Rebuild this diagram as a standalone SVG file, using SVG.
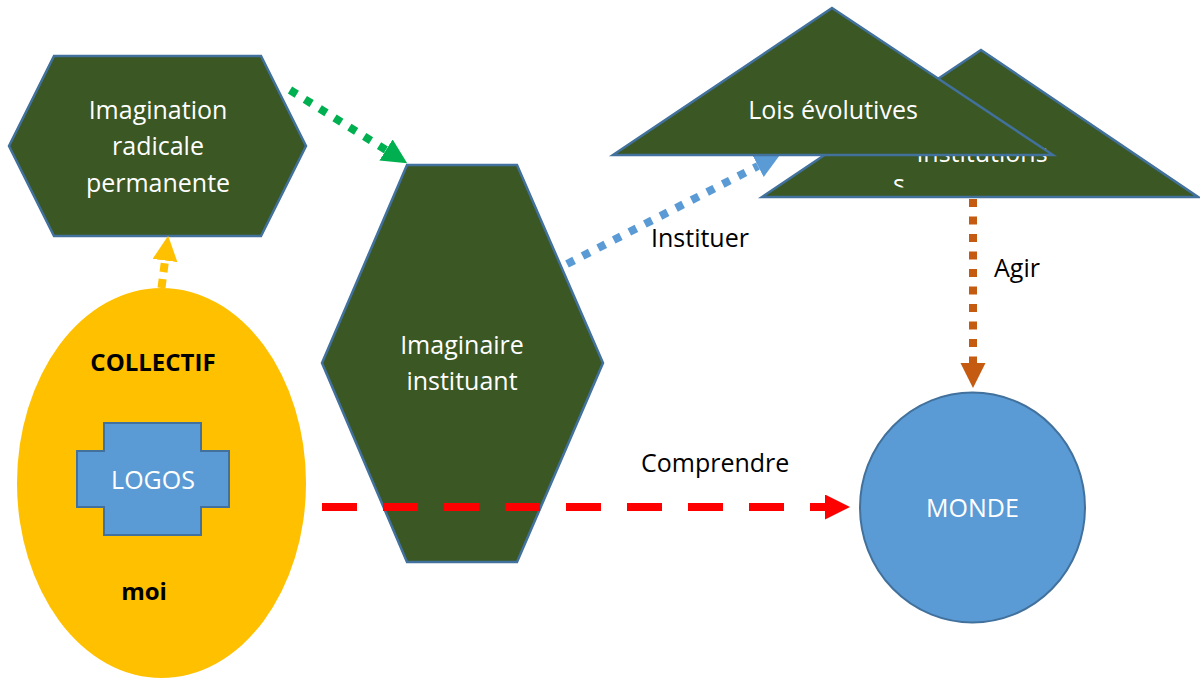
<svg xmlns="http://www.w3.org/2000/svg" width="1200" height="679" viewBox="0 0 1200 679">
<style>
.shape{fill:#3A5724;stroke:#41719C;stroke-width:2.5;stroke-linejoin:miter}
.wt{font-family:"Open Sans","Liberation Sans",sans-serif;font-size:25px;fill:#FFFFFF;text-anchor:middle}
.bt{font-family:"Open Sans","Liberation Sans",sans-serif;font-size:25px;fill:#000000}
.bold{font-family:"Open Sans","Liberation Sans",sans-serif;font-size:24px;font-weight:bold;fill:#000000;text-anchor:middle}
.conn{fill:none}
</style>
<defs>
<marker id="ah-yellow" markerUnits="userSpaceOnUse" markerWidth="26" markerHeight="26" refX="0" refY="12.5" orient="auto" viewBox="0 0 26 26"><path d="M0,0 L25,12.5 L0,25 z" fill="#FFC000"/></marker>
<marker id="ah-green" markerUnits="userSpaceOnUse" markerWidth="26" markerHeight="26" refX="0" refY="12.5" orient="auto" viewBox="0 0 26 26"><path d="M0,0 L25,12.5 L0,25 z" fill="#00B050"/></marker>
<marker id="ah-blue" markerUnits="userSpaceOnUse" markerWidth="26" markerHeight="26" refX="0" refY="12.5" orient="auto" viewBox="0 0 26 26"><path d="M0,0 L25,12.5 L0,25 z" fill="#5B9BD5"/></marker>
<marker id="ah-brown" markerUnits="userSpaceOnUse" markerWidth="26" markerHeight="26" refX="0" refY="12.5" orient="auto" viewBox="0 0 26 26"><path d="M0,0 L25,12.5 L0,25 z" fill="#C55A11"/></marker>
<marker id="ah-red" markerUnits="userSpaceOnUse" markerWidth="26" markerHeight="26" refX="0" refY="12.5" orient="auto" viewBox="0 0 26 26"><path d="M0,0 L25,12.5 L0,25 z" fill="#FF0000"/></marker>
<clipPath id="clip-inst"><rect x="740" y="40" width="460" height="147.5"/></clipPath>
</defs>
<rect width="1200" height="679" fill="#FFFFFF"/>

<g id="imagination-radicale">
<polygon class="shape" points="54,56 261,56 306,146 261,236 54,236 9,146"/>
<text class="wt" x="158" y="119">Imagination</text>
<text class="wt" x="158" y="155">radicale</text>
<text class="wt" x="158" y="192">permanente</text>
</g>

<g id="imaginaire-instituant">
<polygon class="shape" points="407,165 517,165 603,363 517,562 407,562 322,363"/>
<text class="wt" x="462" y="354">Imaginaire</text>
<text class="wt" x="462" y="390">instituant</text>
</g>

<g id="collectif">
<ellipse cx="161.5" cy="483" rx="144.5" ry="195" fill="#FFC000"/>
<text class="bold" x="153" y="371">COLLECTIF</text>
<text class="bold" x="144" y="600">moi</text>
</g>

<g id="logos">
<polygon points="104,423 201,423 201,451 229,451 229,507 201,507 201,535 104,535 104,507 77,507 77,451 104,451" fill="#5B9BD5" stroke="#41719C" stroke-width="2"/>
<text class="wt" x="153" y="489">LOGOS</text>
</g>

<g id="monde">
<ellipse cx="972.5" cy="507.5" rx="112.5" ry="115" fill="#5B9BD5" stroke="#41719C" stroke-width="2"/>
<text class="wt" x="972.5" y="517">MONDE</text>
</g>

<g id="connectors">
<path class="conn" d="M161.5,288 L165,260.5" stroke="#FFC000" stroke-width="8" stroke-dasharray="9 7" marker-end="url(#ah-yellow)"/>
<path class="conn" d="M290,90 L386,150" stroke="#00B050" stroke-width="8" stroke-dasharray="8 9.5" marker-end="url(#ah-green)"/>
<path class="conn" d="M567,264 L758,166" stroke="#5B9BD5" stroke-width="8" stroke-dasharray="8 9.5" marker-end="url(#ah-blue)"/>
<path class="conn" d="M973,199 L973,363" stroke="#C55A11" stroke-width="8" stroke-dasharray="8 9.5" marker-end="url(#ah-brown)"/>
<path class="conn" d="M322,507 L825,507" stroke="#FF0000" stroke-width="8" stroke-dasharray="35 26" marker-end="url(#ah-red)"/>
<text class="bt" x="651" y="247">Instituer</text>
<text class="bt" x="994" y="277">Agir</text>
<text class="bt" x="641" y="472">Comprendre</text>
</g>

<g id="institutions">
<polygon class="shape" points="981,50 1198,197 762,197"/>
<g clip-path="url(#clip-inst)">
<text class="wt" x="982" y="162">Institutions</text>
<text class="wt" x="899" y="193">s</text>
</g>
</g>

<g id="lois-evolutives">
<polygon class="shape" points="832,8 1053,155 613,155"/>
<text class="wt" x="833" y="119">Lois évolutives</text>
</g>
</svg>
